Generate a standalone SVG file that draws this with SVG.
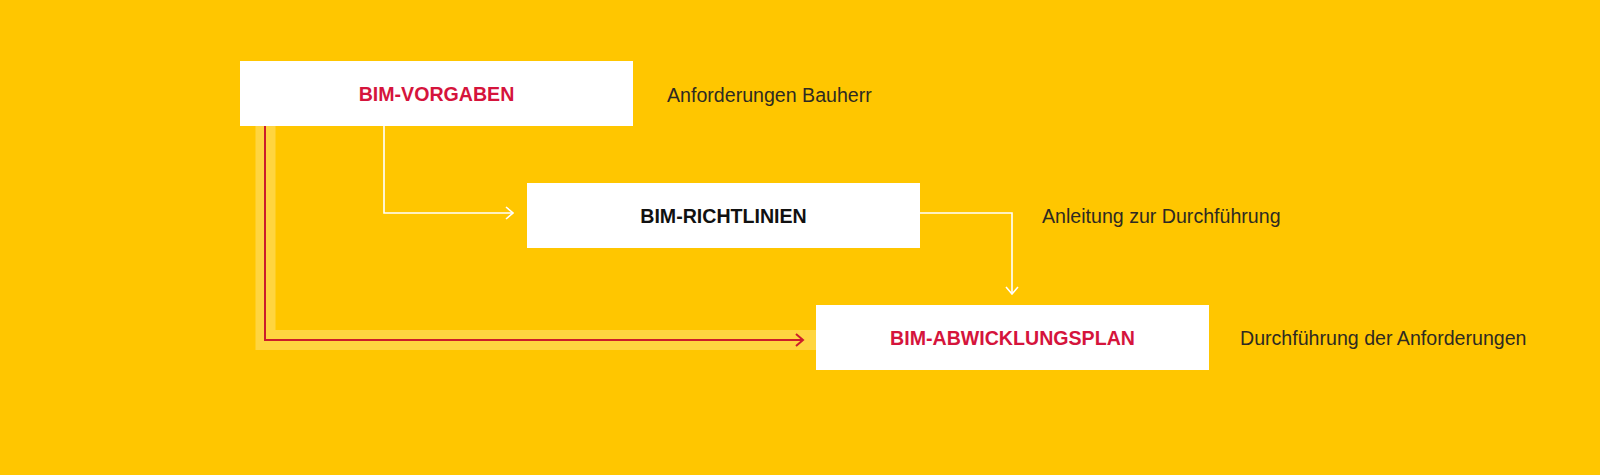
<svg xmlns="http://www.w3.org/2000/svg" width="1600" height="475" viewBox="0 0 1600 475">
<defs>
<style>
.box{fill:#ffffff}
.title{font-family:"Liberation Sans",Arial,sans-serif;font-size:19.6px;font-weight:bold;text-anchor:middle}
.red{fill:#d5143c}
.dark{fill:#111111}
.label{font-family:"Liberation Sans",Arial,sans-serif;font-size:19.6px;fill:#2e2a22}
.wline{fill:none;stroke:#ffffff;stroke-width:1.6}
.rline{fill:none;stroke:#cc1f2a;stroke-width:2}
.band{fill:none;stroke:#ffd540;stroke-width:20}
</style>
<marker id="wArrow" markerWidth="12" markerHeight="16" refX="11" refY="8" orient="auto" markerUnits="userSpaceOnUse">
<path d="M4,2 L11,8 L4,14" fill="none" stroke="#ffffff" stroke-width="1.6"/>
</marker>
<marker id="rArrow" markerWidth="14" markerHeight="16" refX="12" refY="8" orient="auto" markerUnits="userSpaceOnUse">
<path d="M5,2 L12,8 L5,14" fill="none" stroke="#cc1f2a" stroke-width="2"/>
</marker>
</defs>
<rect x="0" y="0" width="1600" height="475" fill="#ffc600"/>
<g id="connectors">
<path class="band" d="M265.5,126 V340 H816"/>
<path class="rline" d="M265,126 V340 H803" marker-end="url(#rArrow)"/>
<path class="wline" d="M384,126 V213 H513" marker-end="url(#wArrow)"/>
<path class="wline" d="M920,213 H1012 V294" marker-end="url(#wArrow)"/>
</g>
<g id="bim-vorgaben">
<rect class="box" x="240" y="61" width="393" height="65"/>
<text class="title red" x="436.5" y="101">BIM-VORGABEN</text>
</g>
<g id="bim-richtlinien">
<rect class="box" x="527" y="183" width="393" height="65"/>
<text class="title dark" x="723.5" y="223">BIM-RICHTLINIEN</text>
</g>
<g id="bim-abwicklungsplan">
<rect class="box" x="816" y="305" width="393" height="65"/>
<text class="title red" x="1012.5" y="345">BIM-ABWICKLUNGSPLAN</text>
</g>
<g id="labels">
<text class="label" x="667" y="102">Anforderungen Bauherr</text>
<text class="label" x="1042" y="223">Anleitung zur Durchführung</text>
<text class="label" x="1240" y="345">Durchführung der Anforderungen</text>
</g>
</svg>
